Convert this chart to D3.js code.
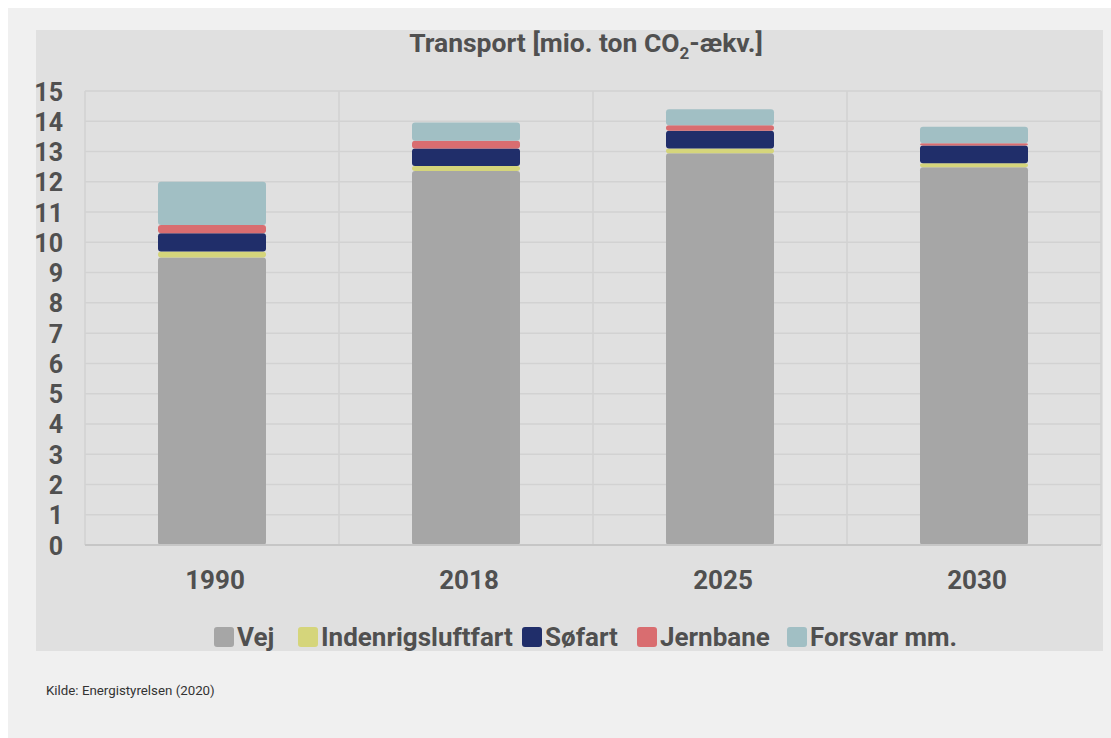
<!DOCTYPE html>
<html>
<head>
<meta charset="utf-8">
<script src="https://cdn.jsdelivr.net/npm/d3@7"></script>
<style>
  html, body { margin: 0; padding: 0; background: #ffffff; }
  svg { display: block; }
  text { font-family: Roboto, "Noto Sans", sans-serif; }
</style>
</head>
<body>
<svg id="chart" width="1111" height="738"></svg>
<script>
// Transport emissions, mio. ton CO2-ækv., by sub-sector
const years = ["1990", "2018", "2025", "2030"];
const seriesNames = ["Vej", "Indenrigsluftfart", "Søfart", "Jernbane", "Forsvar mm."];
const vej = [9.50, 12.36, 12.94, 12.48];
const indenrigsluftfart = [0.20, 0.16, 0.16, 0.13];
const sofart = [0.60, 0.58, 0.59, 0.59];
const jernbane = [0.27, 0.26, 0.18, 0.07];
const forsvar = [1.43, 0.60, 0.53, 0.55];
const yTicks = [0, 1, 2, 3, 4, 5, 6, 7, 8, 9, 10, 11, 12, 13, 14, 15];
const colors = ["#a6a6a6", "#d5d57b", "#202e6a", "#d96d70", "#a1bfc4"];

const seriesValues = [vej, indenrigsluftfart, sofart, jernbane, forsvar];
const rows = years.map((y, i) => {
  const r = { year: y };
  seriesNames.forEach((s, k) => { r[s] = seriesValues[k][i]; });
  return r;
});

const svg = d3.select("#chart");
const textColor = "#505050";

// outer frame and chart panel
svg.append("rect").attr("x", 8).attr("y", 8).attr("width", 1103).attr("height", 730).attr("fill", "#f0f0f0");
svg.append("rect").attr("x", 36).attr("y", 30).attr("width", 1067).attr("height", 621).attr("fill", "#e0e0e0");

const plot = { left: 85, right: 1101, top: 91, bottom: 545 };

const x = d3.scaleBand().domain(years).range([plot.left, plot.right]).paddingInner(0).paddingOuter(0);
const y = d3.scaleLinear().domain([0, 15]).range([plot.bottom, plot.top]);

// grid
const grid = svg.append("g");
grid.selectAll("line.h").data(yTicks.filter(t => t > 0)).join("line")
  .attr("x1", plot.left).attr("x2", plot.right)
  .attr("y1", d => y(d)).attr("y2", d => y(d))
  .attr("stroke", "#d2d2d2").attr("stroke-width", 1.5);
const vLines = years.map(d => x(d)).concat([plot.right]);
grid.selectAll("line.v").data(vLines).join("line")
  .attr("x1", d => d).attr("x2", d => d)
  .attr("y1", plot.top).attr("y2", plot.bottom)
  .attr("stroke", "#d2d2d2").attr("stroke-width", 1.5);

// stacked bars
const stack = d3.stack().keys(seriesNames);
const stacked = stack(rows);
const barW = 108;
const layers = svg.append("g").selectAll("g").data(stacked).join("g")
  .attr("fill", (d, i) => colors[i]);
layers.selectAll("rect").data(d => d).join("rect")
  .attr("x", d => x(d.data.year) + x.bandwidth() / 2 - barW / 2)
  .attr("width", barW)
  .attr("y", d => y(d[1]))
  .attr("height", d => y(d[0]) - y(d[1]))
  .attr("rx", 3);

// baseline
svg.append("line")
  .attr("x1", plot.left).attr("x2", plot.right)
  .attr("y1", plot.bottom).attr("y2", plot.bottom)
  .attr("stroke", "#c6c6c6").attr("stroke-width", 2);

// y axis
const yAxis = d3.axisLeft(y).tickValues(yTicks).tickSize(0).tickPadding(0).tickFormat(d3.format("d"));
const yg = svg.append("g").attr("transform", `translate(63,0)`).call(yAxis);
yg.select(".domain").remove();
yg.selectAll("text")
  .attr("fill", textColor).attr("font-size", 25).attr("font-weight", 700)
  .attr("text-anchor", "end").attr("dy", "0.36em")
  .style("font-family", "Roboto, sans-serif");

// x axis
const xAxis = d3.axisBottom(x).tickSize(0).tickPadding(0);
const xg = svg.append("g").attr("transform", `translate(0,${plot.bottom})`).call(xAxis);
xg.select(".domain").remove();
xg.selectAll("text")
  .attr("fill", textColor).attr("font-size", 26).attr("font-weight", 700)
  .attr("y", 44).attr("dy", 0).attr("dx", 3)
  .style("font-family", "Roboto, sans-serif");

// title
const title = svg.append("text")
  .attr("x", 586).attr("y", 52)
  .attr("text-anchor", "middle")
  .attr("fill", textColor).attr("font-size", 26.5).attr("font-weight", 700);
title.append("tspan").text("Transport [mio. ton CO");
title.append("tspan").attr("font-size", 17).attr("dy", 7).text("2");
title.append("tspan").attr("dy", -7).text("-ækv.]");

// legend
const legendX = [214, 298, 522, 637, 787];
const lg = svg.append("g");
const items = lg.selectAll("g").data(seriesNames).join("g")
  .attr("transform", (d, i) => `translate(${legendX[i]},627)`);
items.append("rect").attr("width", 20).attr("height", 20).attr("rx", 3)
  .attr("fill", (d, i) => colors[i]);
items.append("text").attr("x", 23).attr("y", 19)
  .attr("fill", textColor).attr("font-size", 26).attr("font-weight", 700)
  .text(d => d);

// source
svg.append("text").attr("x", 46).attr("y", 695)
  .attr("fill", "#333333").attr("font-size", 13.3)
  .text("Kilde: Energistyrelsen (2020)");
</script>
</body>
</html>
